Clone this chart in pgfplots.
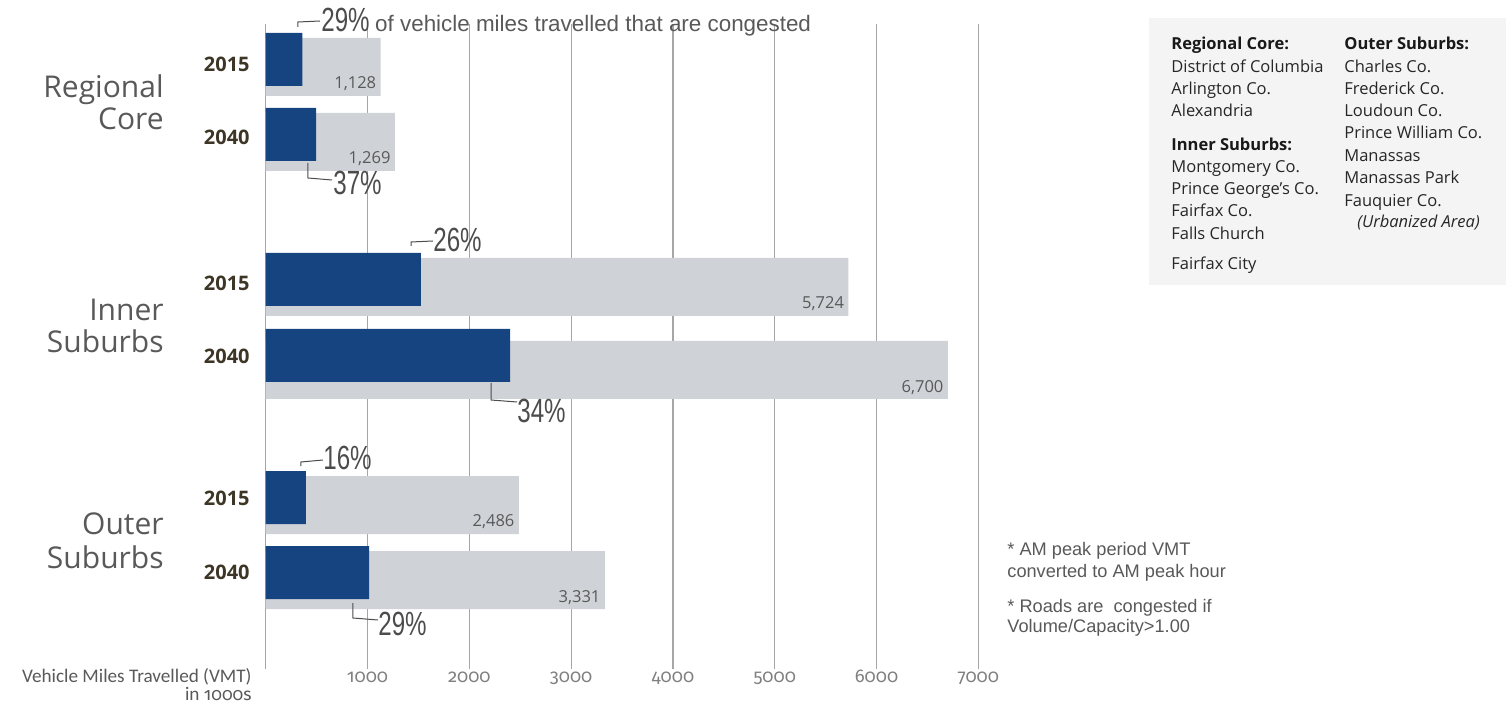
\documentclass[border=0pt]{standalone}
\usepackage{pgfplots}
\pgfplotsset{compat=1.18}
\usepackage{fontspec}
\setmainfont{Liberation Sans}
\newfontfamily\osans{Open Sans}
\newfontfamily\cali{Carlito}
\newfontfamily\onum[Numbers=OldStyle]{Fira Sans}
\newfontfamily\cond[FakeStretch=0.72]{Liberation Sans}

\definecolor{congblue}{HTML}{154480}
\definecolor{vmtgray}{HTML}{CFD2D6}
\definecolor{txt}{HTML}{595959}
\definecolor{yr}{HTML}{3D3525}
\definecolor{gridc}{HTML}{A6A6A6}
\definecolor{boxbg}{HTML}{F4F4F4}

\newcommand\pct[1]{{\cond\fontsize{16.75}{18}\selectfont #1\%}}

\begin{document}
\begin{tikzpicture}
\begin{axis}[
  x=0.0509pt, y=0.5pt,
  xmin=0, xmax=7000, ymin=-669, ymax=-24,
  clip=false,
  axis line style={draw=none},
  major tick length=0pt,
  xtick={0,1000,...,7000},
  xticklabels={{},1000,2000,3000,4000,5000,6000,7000},
  xticklabel style={font=\onum\fontsize{9.2}{11}\selectfont, text=black!50, anchor=base, inner sep=0pt, yshift=-6.5pt},
  xmajorgrids,
  major grid style={gridc, line width=0.6pt},
  ytick={-572.5,-498,-356,-283,-137.5,-64},
  yticklabels={2040,2015,2040,2015,2040,2015},
  yticklabel style={font=\osans\bfseries\fontsize{10}{12}\selectfont, text=yr, anchor=east, inner sep=0pt, xshift=-7.85pt},
  xbar, bar shift=0pt,
  /pgf/number format/assume math mode=true,
]
% total VMT (1000s): RC 2015, RC 2040, IS 2015, IS 2040, OS 2015, OS 2040
\addplot[fill=vmtgray, draw=none, bar width=58, point meta=x,
  nodes near coords,
  nodes near coords style={anchor=base east, inner sep=0pt, xshift=-2pt, yshift=-11pt,
    font=\osans\fontsize{8.25}{10}\selectfont, text=txt}]
  coordinates {(1128,-67) (1269,-142) (5724,-287) (6700,-370) (2486,-505) (3331,-580)};
% congested VMT
\addplot[fill=congblue, draw=none, bar width=53]
  coordinates {(360,-59.5) (495,-134.5) (1525,-279.5) (2400,-355.5) (395,-497.5) (1015,-572.5)};
\coordinate (P0) at (axis cs:0,0);
\end{axis}

% annotations in pixel units of the original
\begin{scope}[shift={(P0)}, xshift=-132.85pt, x=0.5pt, y=-0.5pt]
  \tikzset{grp/.style={anchor=base east, inner sep=0pt, font=\osans\fontsize{15}{16.5}\selectfont, text=txt},
           pc/.style={anchor=base west, inner sep=0pt, text=black!70},
           ld/.style={line width=0.5pt, black!70},
           leg/.style={anchor=base west, inner sep=0pt, font=\osans\fontsize{8.25}{10}\selectfont, text=black!85},
           note/.style={anchor=base west, inner sep=0pt, font=\fontsize{9.1}{11}\selectfont, text=txt}}
  \node[grp] at (164,98) {Regional};
  \node[grp] at (164,130) {Core};
  \node[grp] at (164,321) {Inner};
  \node[grp] at (164,353) {Suburbs};
  \node[grp] at (164,535) {Outer};
  \node[grp] at (164,568) {Suburbs};

  \draw[ld] (298,27)--(298,22)--(320,21);
  \node[pc] at (321,32) {\pct{29} {\fontsize{11.2}{13}\selectfont\color{txt}of vehicle miles travelled that are congested}};
  \draw[ld] (308,163)--(308,178)--(332,180);
  \node[pc] at (333,195) {\pct{37}};
  \draw[ld] (411,246)--(411,242)--(433,241);
  \node[pc] at (433,252) {\pct{26}};
  \draw[ld] (491,383)--(491,400)--(517,402);
  \node[pc] at (517,423) {\pct{34}};
  \draw[ld] (301,466)--(301,462)--(323,460);
  \node[pc] at (323,470) {\pct{16}};
  \draw[ld] (353,603)--(353,618)--(378,620);
  \node[pc] at (378,635) {\pct{29}};

  \node[anchor=base east, inner sep=0pt, font=\cali\fontsize{9.6}{11}\selectfont, text=txt] at (252,682) {Vehicle Miles Travelled (VMT)};
  \node[anchor=base east, inner sep=0pt, font=\cali\fontsize{9.6}{11}\selectfont, text=txt] at (252,700) {in {\onum\fontsize{8.8}{10}\selectfont 1000s}};

  \node[note] at (1007,555) {* AM peak period VMT};
  \node[note] at (1007,577) {converted to AM peak hour};
  \node[note] at (1007,612) {* Roads are\ \ congested if};
  \node[note] at (1007,632) {Volume/Capacity>1.00};

  \fill[boxbg] (1149,18) rectangle (1506,285);
  \node[leg, font=\osans\bfseries\fontsize{8.25}{10}\selectfont, text=black!90] at (1171,50) {Regional Core:};
  \node[leg] at (1171,73) {District of Columbia};
  \node[leg] at (1171,95) {Arlington Co.};
  \node[leg] at (1171,117) {Alexandria};
  \node[leg, font=\osans\bfseries\fontsize{8.25}{10}\selectfont, text=black!90] at (1171,151) {Inner Suburbs:};
  \node[leg] at (1171,173) {Montgomery Co.};
  \node[leg] at (1171,195) {Prince George’s Co.};
  \node[leg] at (1171,217) {Fairfax Co.};
  \node[leg] at (1171,240) {Falls Church};
  \node[leg] at (1171,270) {Fairfax City};
  \node[leg, font=\osans\bfseries\fontsize{8.25}{10}\selectfont, text=black!90] at (1344,50) {Outer Suburbs:};
  \node[leg] at (1344,73) {Charles Co.};
  \node[leg] at (1344,95) {Frederick Co.};
  \node[leg] at (1344,117) {Loudoun Co.};
  \node[leg] at (1344,139) {Prince William Co.};
  \node[leg] at (1344,162) {Manassas};
  \node[leg] at (1344,184) {Manassas Park};
  \node[leg] at (1344,207) {Fauquier Co.};
  \node[leg, font=\osans\itshape\fontsize{8.25}{10}\selectfont] at (1357,228) {(Urbanized Area)};

  \pgfresetboundingbox
  \path[use as bounding box] (0,0) rectangle (1512,703);
\end{scope}
\end{tikzpicture}
\end{document}
